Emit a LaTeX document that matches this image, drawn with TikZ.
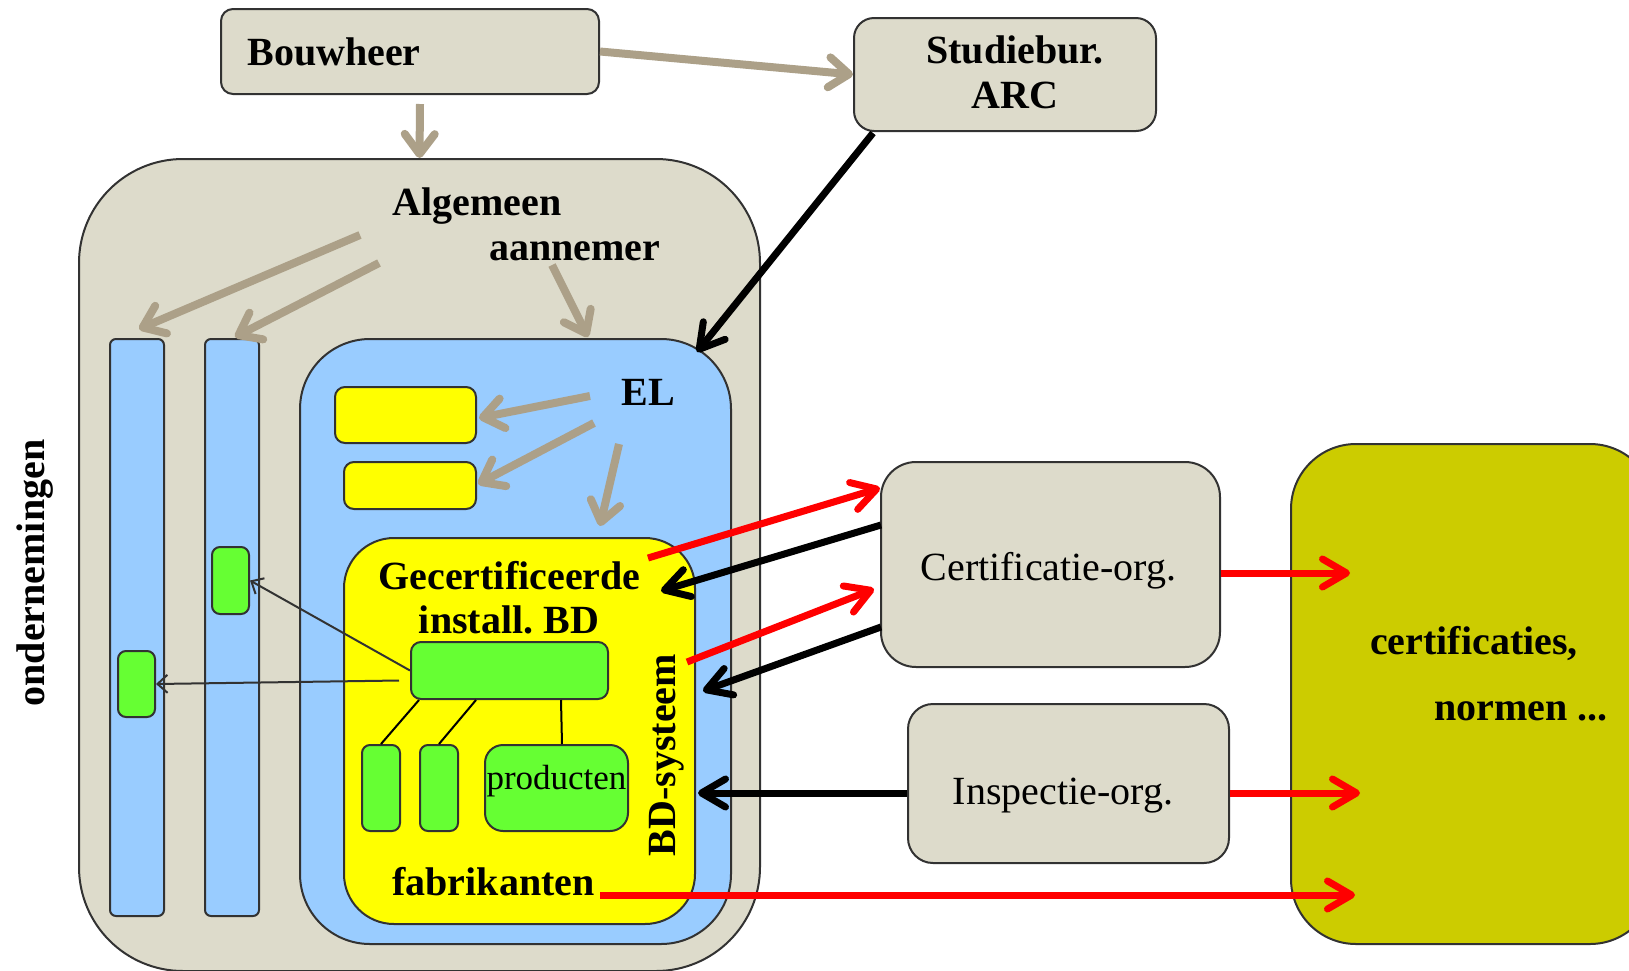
\documentclass[tikz,border=0pt]{standalone}
\usepackage{fontspec}
\setmainfont{Liberation Serif}
\usetikzlibrary{arrows.meta,calc}
\definecolor{tanfill}{RGB}{221,219,203}
\definecolor{arrowtan}{RGB}{172,160,136}
\definecolor{bluec}{RGB}{153,204,255}
\definecolor{yellowc}{RGB}{255,255,0}
\definecolor{greenc}{RGB}{102,255,51}
\definecolor{olivec}{RGB}{204,204,0}
\definecolor{bordc}{RGB}{50,50,50}
\frenchspacing
\begin{document}
\begin{tikzpicture}[x=0.5pt,y=-0.5pt,
  bx/.style={draw=bordc,line width=1pt,inner sep=0pt},
  lbl/.style={font=\fontsize{20}{24}\selectfont\bfseries,inner sep=0pt},
  txt/.style={font=\fontsize{20}{24}\selectfont,inner sep=0pt},
  tanarr/.style={draw=arrowtan,line width=4pt,-{Straight Barb[length=10pt,width=15pt,round]}},
  blkarr/.style={draw=black,line width=3.5pt,-{Straight Barb[length=12pt,width=14pt,round]}},
  redarr/.style={draw=red,line width=3.5pt,-{Straight Barb[length=12pt,width=14pt,round]}},
  thinarr/.style={draw=bordc,line width=1pt,-{Straight Barb[length=5pt,width=9pt]}},
  thinline/.style={draw=black,line width=1pt}]
\fill[white] (0,0) rectangle (1629,970);
\useasboundingbox (0,0) rectangle (1629,970);
\clip (0,0) rectangle (1629,970);

% boxes
\node[bx,fill=tanfill,rounded corners=52pt,minimum width=340.5pt,minimum height=406pt] (alg) at (419.5,565) {};
\node[bx,fill=bluec,rounded corners=3pt,minimum width=27pt,minimum height=288.5pt] (col1) at (137,627.5) {};
\node[bx,fill=bluec,rounded corners=3pt,minimum width=27pt,minimum height=288.5pt] (col2) at (232,627.5) {};
\node[bx,fill=bluec,rounded corners=35pt,minimum width=215.5pt,minimum height=302.5pt] (el) at (515.5,641.5) {};
\node[bx,fill=yellowc,rounded corners=5pt,minimum width=70.5pt,minimum height=28pt] (y1) at (405.5,415) {};
\node[bx,fill=yellowc,rounded corners=5pt,minimum width=66pt,minimum height=23.5pt] (y2) at (410,485.5) {};
\node[bx,fill=yellowc,rounded corners=25pt,minimum width=175.5pt,minimum height=193pt] (bd) at (519.5,731) {};
\node[bx,fill=greenc,rounded corners=5pt,minimum width=98.5pt,minimum height=28.5pt] (gmain) at (509.5,670.5) {};
\node[bx,fill=greenc,rounded corners=4pt,minimum width=19pt,minimum height=43pt] (g1) at (381,788) {};
\node[bx,fill=greenc,rounded corners=4pt,minimum width=19pt,minimum height=43pt] (g2) at (439,788) {};
\node[bx,fill=greenc,rounded corners=9pt,minimum width=71.5pt,minimum height=43pt] (prod) at (556.5,788) {};
\node[bx,fill=greenc,rounded corners=4pt,minimum width=18.5pt,minimum height=33.5pt] (gA) at (230.5,580.5) {};
\node[bx,fill=greenc,rounded corners=4pt,minimum width=18.5pt,minimum height=33pt] (gB) at (136.5,684) {};
\node[bx,fill=tanfill,rounded corners=17.5pt,minimum width=169.5pt,minimum height=102.5pt] (cert) at (1050.5,564.5) {};
\node[bx,fill=tanfill,rounded corners=12.5pt,minimum width=160.5pt,minimum height=79.5pt] (insp) at (1068.5,783.5) {};
\node[bx,fill=olivec,rounded corners=32.5pt,minimum width=182pt,minimum height=250pt] (norm) at (1473,694) {};
\node[bx,fill=tanfill,rounded corners=10pt,minimum width=151pt,minimum height=56.5pt] (stud) at (1005,74.5) {};
\node[bx,fill=tanfill,rounded corners=6pt,minimum width=189pt,minimum height=42.5pt] (bouw) at (410,51.5) {};

% texts
\node[lbl,anchor=base west] (tbouw) at (247,65) {Bouwheer};
\node[lbl,anchor=base] (tstud1) at (1015,63) {Studiebur.};
\node[lbl,anchor=base] (tstud2) at (1015,108) {ARC};
\node[lbl,anchor=base west] (talg1) at (392,215) {Algemeen};
\node[lbl,anchor=base west] (talg2) at (489,260) {aannemer};
\node[lbl,anchor=base west] (tel) at (621,405) {EL};
\node[lbl,anchor=base] (tbd1) at (509.5,589) {Gecertificeerde};
\node[lbl,anchor=base] (tbd2) at (509,633) {install. BD};
\node[lbl,anchor=base] (tfab) at (493.5,895) {fabrikanten};
\node[lbl,anchor=base,rotate=90] (tsys) at (675,755) {BD-systeem};
\node[txt,anchor=base,font=\fontsize{17.5}{20}\selectfont] (tprod) at (556.5,789) {producten};
\node[txt,anchor=base] (tcert) at (1048.5,580) {Certificatie-org.};
\node[txt,anchor=base] (tinsp) at (1063,804) {Inspectie-org.};
\node[lbl,anchor=base] (tnorm1) at (1474,654) {certificaties,};
\node[lbl,anchor=base] (tnorm2) at (1521,720) {normen ...};
\node[lbl,anchor=base,rotate=90] (tond) at (45,573) {ondernemingen};

% free start points
\coordinate (cbw) at ($(bouw.south)+(10,9)$);
\coordinate (ca1) at (360,235);
\coordinate (ca2) at (379,263);
\coordinate (ca3) at (552,265);
\coordinate (ce1) at (590,396);
\coordinate (ce2) at (594,423);
\coordinate (ce3) at (619,444);

% tan arrows
\draw[tanarr] (bouw.east) -- (stud.west);
\draw[tanarr] (cbw) -- (alg.north);
\draw[tanarr] (ca1) -- ($(col1.north)+(2,-9)$);
\draw[tanarr] (ca2) -- ($(col2.north)+(3,-1)$);
\draw[tanarr] (ca3) -- ($(el.north)+(72.5,-1)$);
\draw[tanarr] (ce1) -- ($(y1.east)+(2,3)$);
\draw[tanarr] (ce2) -- ($(y2.east)+(1,-1.5)$);
\draw[tanarr] (ce3) -- ($(bd.north)+(80.5,-11)$);

% thin connectors
\draw[thinarr] (gmain.west) -- (gA.east);
\draw[thinarr] ($(gmain.west)+(-11,10)$) -- (gB.east);
\draw[thinline] ($(gmain.south west)+(9,0)$) -- (g1.north);
\draw[thinline] ($(gmain.south west)+(66,0)$) -- (g2.north);
\draw[thinline] ($(gmain.south west)+(151,0)$) -- ($(prod.north)+(5.5,0)$);

% black arrows
\draw[blkarr] ($(stud.south west)+(20,1)$) -- ($(el.north east)+(-35,14)$);
\draw[blkarr] ($(cert.west)+(1,-39.5)$) -- ($(bd.north east)+(-35,54)$);
\draw[blkarr] ($(cert.west)+(1,62.5)$) -- ($(el.east)+(-29,49.5)$);
\draw[blkarr] ($(insp.west)+(0,9.5)$) -- ($(el.east)+(-34,151.5)$);

% red arrows
\draw[redarr] ($(bd.north east)+(-48,21)$) -- ($(cert.west)+(0,-76.5)$);
\draw[redarr] ($(bd.east)+(-9,-69)$) -- ($(cert.west)+(-6,24.5)$);
\draw[redarr] ($(cert.east)+(0,8.5)$) -- ($(norm.west)+(60,-121)$);
\draw[redarr] ($(insp.east)+(0,9.5)$) -- ($(norm.west)+(70,99)$);
\draw[redarr] ($(tfab.base east)+(5,0)$) -- ($(norm.west)+(65,201)$);
\end{tikzpicture}
\end{document}
